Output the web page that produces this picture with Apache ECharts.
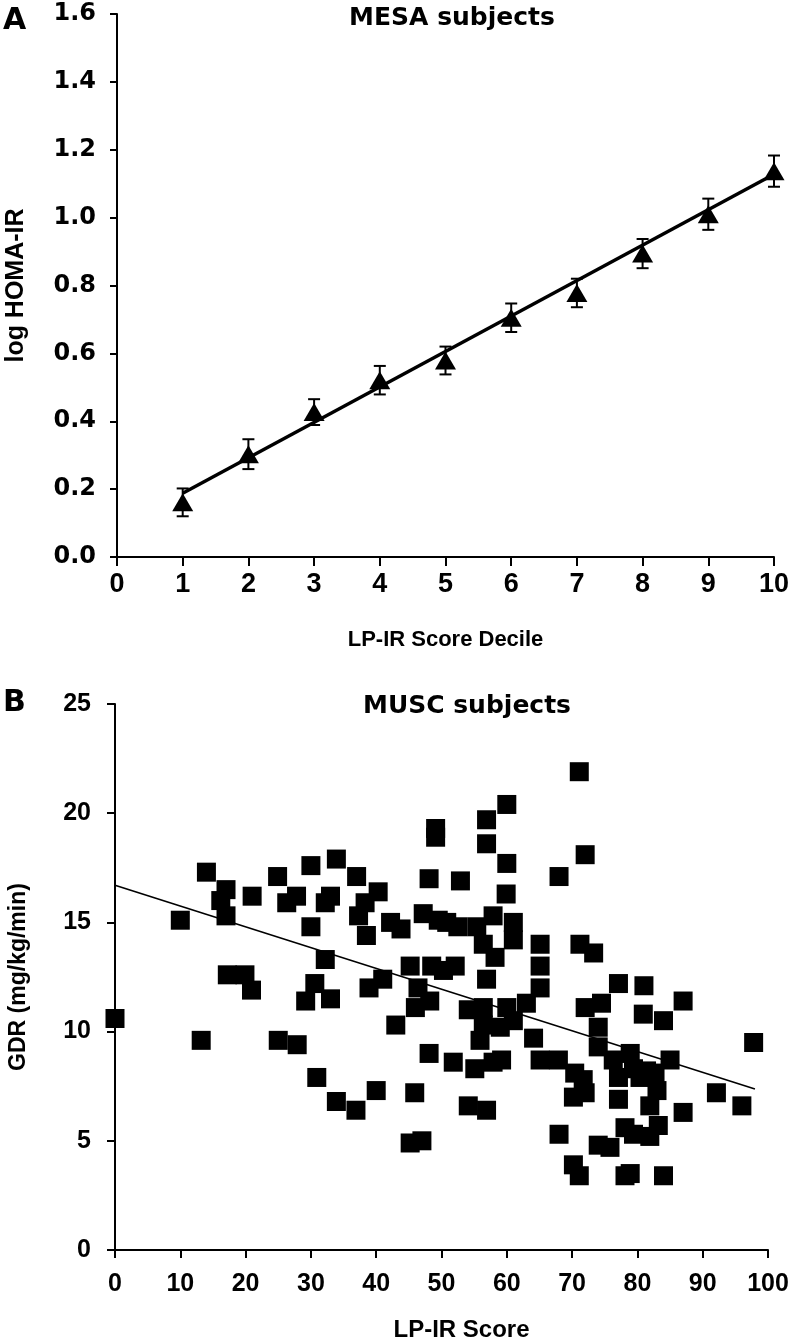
<!DOCTYPE html>
<html>
<head>
<meta charset="utf-8">
<script src="https://cdn.jsdelivr.net/npm/echarts@6/dist/echarts.min.js"></script>
<style>
html,body{margin:0;padding:0;background:#fff;}
#chart{width:792px;height:1340px;}
</style>
</head>
<body>
<div id="chart"></div>
<script>
// ---------- Panel A: MESA subjects ----------
const decileA = [1, 2, 3, 4, 5, 6, 7, 8, 9, 10];
const logHomaMean = [0.161, 0.303, 0.427, 0.521, 0.579, 0.705, 0.778, 0.894, 1.010, 1.137];
const logHomaErr = [0.041, 0.044, 0.038, 0.042, 0.041, 0.042, 0.042, 0.043, 0.046, 0.046];
const trendAX = [1, 10];
const trendAY = [0.188, 1.128];
const yTicksA = ['0.0', '0.2', '0.4', '0.6', '0.8', '1.0', '1.2', '1.4', '1.6'];

// ---------- Panel B: MUSC subjects ----------
const lpirScore = [
  0, 10, 13.2, 14, 17, 16.2, 17, 17.2, 19.9, 20.9,
  21, 24.9, 26.3, 27.8, 25, 27.9, 30, 30, 32.2, 33,
  33.9, 32.2, 30.6, 29.2, 33, 30.9, 33.9, 36.9, 40, 37,
  40.3, 38.3, 37.3, 38.5, 42.2, 43.8, 47.2, 49.5, 48.1, 49.1,
  49.1, 45.2, 48.5, 50.3, 46.4, 41, 38.9, 43, 46, 48.2,
  48.1, 51.8, 45.9, 45.2, 47, 52.9, 56.9, 60, 56.9, 60,
  71.1, 72, 68, 59.9, 50.8, 52.5, 55.4, 57.9, 61, 56.4,
  58.2, 61, 65.1, 65.1, 52.1, 56.9, 65.1, 71.2, 73.3, 77.1,
  81, 87, 72, 74.5, 54.1, 56.4, 56.4, 60, 61, 63,
  59, 55.9, 64.1, 55.1, 57.9, 59.2, 54.1, 56.9, 65.1, 67.9,
  70.4, 71.7, 70.2, 72, 68, 70.2, 71.1, 74, 74, 76.3,
  77.1, 78.9, 80.4, 82.7, 83, 85, 77.1, 81.9, 83.2, 78.1,
  79.4, 81.9, 74, 75.8, 78.1, 78.9, 84, 87, 92.1, 96,
  97.8, 80.9, 84, 79.4, 81.4
];
const gdr = [
  10.6, 15.1, 9.6, 17.3, 16.5, 16.0, 15.3, 12.6, 12.6, 11.9,
  16.2, 17.1, 15.9, 16.2, 9.6, 9.4, 17.6, 14.8, 15.9, 16.2,
  17.9, 13.3, 12.2, 11.4, 11.5, 7.9, 6.8, 6.4, 7.3, 17.1,
  16.4, 15.9, 15.3, 14.4, 15.0, 14.7, 15.4, 15.1, 17.0, 19.3,
  18.9, 13.0, 13.0, 12.8, 12.0, 12.4, 12.0, 10.3, 11.1, 11.4,
  9.0, 8.6, 7.2, 4.9, 5.0, 16.9, 19.7, 20.4, 18.6, 17.7,
  21.9, 18.1, 17.1, 16.3, 15.0, 14.8, 14.8, 15.3, 15.0, 14.0,
  13.4, 14.2, 14.0, 13.0, 13.0, 12.4, 12.0, 14.0, 13.6, 12.2,
  12.1, 11.4, 11.1, 11.3, 11.0, 11.1, 10.3, 11.1, 10.5, 11.3,
  10.2, 9.6, 9.7, 8.3, 8.6, 8.7, 6.6, 6.4, 8.7, 8.7,
  8.1, 7.8, 7.0, 7.2, 5.3, 3.9, 3.4, 10.2, 9.3, 8.7,
  7.9, 9.0, 7.9, 8.1, 7.3, 8.7, 6.9, 6.6, 5.7, 5.6,
  5.3, 5.2, 4.8, 4.7, 3.4, 3.5, 3.4, 6.3, 7.2, 6.6,
  9.5, 10.8, 10.5, 8.3, 8.2
];
const trendBX = [0, 98];
const trendBY = [16.7, 7.37];

// ---------- build ----------
const BOLD_WIDE = 'DejaVu Sans';
const BOLD_ARIAL = 'Liberation Sans, Arial, sans-serif';

const meanPts = decileA.map((d, i) => [d, logHomaMean[i]]);
const errPts = decileA.map((d, i) => [d, logHomaMean[i] - logHomaErr[i], logHomaMean[i] + logHomaErr[i]]);
const trendA = trendAX.map((x, i) => [x, trendAY[i]]);
const scatterB = lpirScore.map((x, i) => [x, gdr[i]]);
const trendB = trendBX.map((x, i) => [x, trendBY[i]]);

const axisLine = { show: true, lineStyle: { color: '#000', width: 2 } };

const chart = echarts.init(document.getElementById('chart'), null, { renderer: 'canvas' });
chart.setOption({
  animation: false,
  backgroundColor: '#fff',
  grid: [
    { left: 117, right: 18, top: 14, bottom: 783, containLabel: false, outerBoundsMode: 'none' },
    { left: 115, right: 24, top: 704, bottom: 90, containLabel: false, outerBoundsMode: 'none' }
  ],
  xAxis: [
    {
      gridIndex: 0, type: 'value', min: 0, max: 10, interval: 1,
      axisLine: axisLine,
      axisTick: { show: true, length: 9, lineStyle: { color: '#000', width: 2 } },
      axisLabel: { color: '#000', fontFamily: BOLD_ARIAL, fontWeight: 'bold', fontSize: 27, margin: 14 },
      splitLine: { show: false },
      name: 'LP-IR Score Decile', nameLocation: 'middle', nameGap: 72,
      nameTextStyle: { color: '#000', fontFamily: BOLD_ARIAL, fontWeight: 'bold', fontSize: 22 }
    },
    {
      gridIndex: 1, type: 'value', min: 0, max: 100, interval: 10,
      axisLine: axisLine,
      axisTick: { show: true, length: 8, lineStyle: { color: '#000', width: 2 } },
      axisLabel: { color: '#000', fontFamily: BOLD_ARIAL, fontWeight: 'bold', fontSize: 25, margin: 22 },
      splitLine: { show: false },
      name: 'LP-IR Score', nameLocation: 'middle', nameGap: 68,
      nameTextStyle: { color: '#000', fontFamily: BOLD_ARIAL, fontWeight: 'bold', fontSize: 24, padding: [0, 0, 0, 40] }
    }
  ],
  yAxis: [
    {
      gridIndex: 0, type: 'value', min: 0, max: 1.6, interval: 0.2,
      axisLine: axisLine,
      axisTick: { show: true, length: 7, lineStyle: { color: '#000', width: 2 } },
      axisLabel: {
        color: '#000', fontFamily: BOLD_WIDE, fontWeight: 'bold', fontSize: 24, margin: 21,
        formatter: function (v) { return yTicksA[Math.round(v / 0.2)]; }
      },
      splitLine: { show: false },
      name: 'log HOMA-IR', nameLocation: 'middle', nameGap: 88,
      nameTextStyle: { color: '#000', fontFamily: BOLD_ARIAL, fontWeight: 'bold', fontSize: 25 }
    },
    {
      gridIndex: 1, type: 'value', min: 0, max: 25, interval: 5,
      axisLine: axisLine,
      axisTick: { show: true, length: 8, lineStyle: { color: '#000', width: 2 } },
      axisLabel: { color: '#000', fontFamily: BOLD_ARIAL, fontWeight: 'bold', fontSize: 25, margin: 24 },
      splitLine: { show: false },
      name: 'GDR (mg/kg/min)', nameLocation: 'middle', nameGap: 85,
      nameTextStyle: { color: '#000', fontFamily: BOLD_ARIAL, fontWeight: 'bold', fontSize: 23 }
    }
  ],
  graphic: [
    { type: 'text', left: 3, top: 6, style: { text: 'A', fill: '#000', font: 'bold 30px DejaVu Sans' } },
    { type: 'text', left: 3, top: 688, style: { text: 'B', fill: '#000', font: 'bold 30px DejaVu Sans' } },
    { type: 'text', x: 452, y: 18, style: { text: 'MESA subjects', fill: '#000', font: 'bold 25px DejaVu Sans', align: 'center', verticalAlign: 'middle' } },
    { type: 'text', x: 467, y: 706, style: { text: 'MUSC subjects', fill: '#000', font: 'bold 25px DejaVu Sans', align: 'center', verticalAlign: 'middle' } }
  ],
  series: [
    {
      type: 'line', xAxisIndex: 0, yAxisIndex: 0, data: trendA,
      symbol: 'none', lineStyle: { color: '#000', width: 3.5, opacity: 1 }, z: 2
    },
    {
      type: 'custom', xAxisIndex: 0, yAxisIndex: 0, data: errPts, z: 3,
      renderItem: function (params, api) {
        const x = api.value(0);
        const lo = api.coord([x, api.value(1)]);
        const hi = api.coord([x, api.value(2)]);
        const hw = 6;
        const st = { stroke: '#000', lineWidth: 2 };
        return {
          type: 'group',
          children: [
            { type: 'line', shape: { x1: lo[0], y1: lo[1], x2: hi[0], y2: hi[1] }, style: st },
            { type: 'line', shape: { x1: lo[0] - hw, y1: lo[1], x2: lo[0] + hw, y2: lo[1] }, style: st },
            { type: 'line', shape: { x1: hi[0] - hw, y1: hi[1], x2: hi[0] + hw, y2: hi[1] }, style: st }
          ]
        };
      }
    },
    {
      type: 'scatter', xAxisIndex: 0, yAxisIndex: 0, data: meanPts,
      symbol: 'triangle', symbolSize: [21, 18], itemStyle: { color: '#000', opacity: 1 }, z: 4
    },
    {
      type: 'scatter', xAxisIndex: 1, yAxisIndex: 1, data: scatterB,
      symbol: 'rect', symbolSize: 19, itemStyle: { color: '#000', opacity: 1 }, z: 3
    },
    {
      type: 'line', xAxisIndex: 1, yAxisIndex: 1, data: trendB,
      symbol: 'none', lineStyle: { color: '#000', width: 1.6, opacity: 1 }, z: 4
    }
  ]
});
</script>
</body>
</html>
